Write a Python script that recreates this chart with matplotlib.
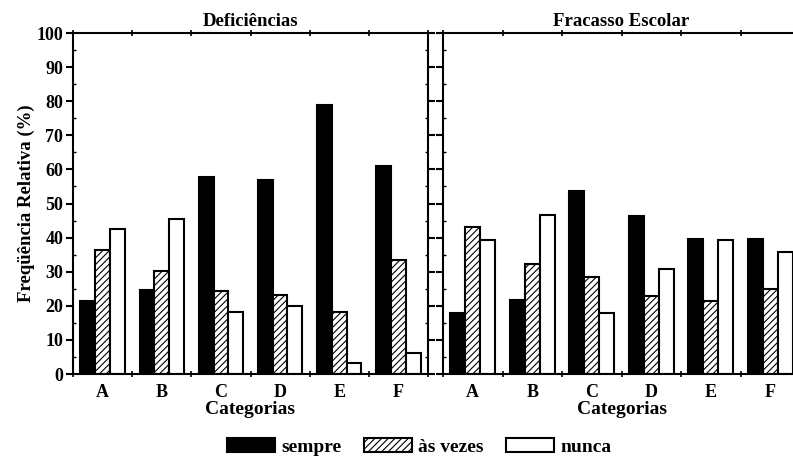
import matplotlib
matplotlib.use("Agg")
import matplotlib.pyplot as plt
import numpy as np
from matplotlib.ticker import MultipleLocator, FixedLocator

plt.rcParams.update({
    "font.family": "Liberation Serif",
    "font.weight": "bold",
    "font.size": 13,
    "hatch.linewidth": 0.8,
})

categories = ["A", "B", "C", "D", "E", "F"]
series = ["sempre", "às vezes", "nunca"]

# Deficiências
def_sempre = [21.5, 24.5, 57.8, 56.8, 79.0, 61.0]
def_asvezes = [36.5, 30.3, 24.2, 23.3, 18.2, 33.3]
def_nunca = [42.5, 45.5, 18.2, 20.0, 3.2, 6.2]

# Fracasso Escolar
fra_sempre = [18.0, 21.7, 53.8, 46.3, 39.5, 39.5]
fra_asvezes = [43.0, 32.3, 28.5, 23.0, 21.4, 25.0]
fra_nunca = [39.3, 46.5, 17.8, 30.8, 39.3, 35.8]

fig = plt.figure(figsize=(7.93, 4.61), dpi=100)
ax1 = fig.add_axes([73 / 793, 87 / 461, 355 / 793, 341 / 461])
ax2 = fig.add_axes([443 / 793, 87 / 461, 357 / 793, 341 / 461])

x = np.arange(len(categories))
w = 0.25
styles = [
    dict(facecolor="black", hatch=None),
    dict(facecolor="white", hatch="/////"),
    dict(facecolor="white", hatch=None),
]


def draw(ax, data, title):
    bars = []
    for i, (vals, st) in enumerate(zip(data, styles)):
        b = ax.bar(x + (i - 1) * w, vals, w, facecolor=st["facecolor"],
                   hatch=st["hatch"], edgecolor="black", linewidth=1.5,
                   label=series[i])
        bars.append(b)
    ax.set_xlim(-0.5, 5.5)
    ax.set_ylim(0, 100)
    ax.set_xticks(x)
    ax.set_xticklabels(categories, fontsize=13, fontweight="bold")
    ax.xaxis.set_minor_locator(FixedLocator(np.arange(-0.5, 6.0, 1.0)))
    ax.tick_params(axis="x", which="major", length=0, pad=7)
    ax.tick_params(axis="x", which="minor", length=4, width=1.2,
                   direction="inout", top=True)
    ax.yaxis.set_major_locator(MultipleLocator(10))
    ax.yaxis.set_minor_locator(MultipleLocator(5))
    ax.tick_params(axis="y", which="major", length=5, width=1.5,
                   direction="out", left=True, right=True)
    ax.tick_params(axis="y", which="minor", length=2, width=1.0,
                   direction="in", left=True, right=True)
    for s in ax.spines.values():
        s.set_linewidth(1.5)
    ax.set_xlabel("Categorias", fontsize=14, fontweight="bold", labelpad=0)
    ax.set_title(title, fontsize=13.5, fontweight="bold", pad=5)
    return bars


bars = draw(ax1, [def_sempre, def_asvezes, def_nunca], "Deficiências")
ax1.set_ylabel("Freqüência Relativa (%)", fontsize=13.5, fontweight="bold",
               labelpad=1)
ax1.tick_params(axis="y", which="major", labelsize=13, pad=2)

draw(ax2, [fra_sempre, fra_asvezes, fra_nunca], "Fracasso Escolar")
ax2.tick_params(axis="y", which="major", labelleft=False, right=False)
ax2.tick_params(axis="y", which="minor", right=False)

fig.legend(handles=bars, labels=series, loc="center", ncol=3,
           bbox_to_anchor=(419 / 793, 1 - 447 / 461), frameon=False,
           handlelength=2.5, handleheight=0.7, columnspacing=1.15,
           handletextpad=0.3, prop={"size": 14, "weight": "bold"})

fig.savefig("out.png", dpi=100)
